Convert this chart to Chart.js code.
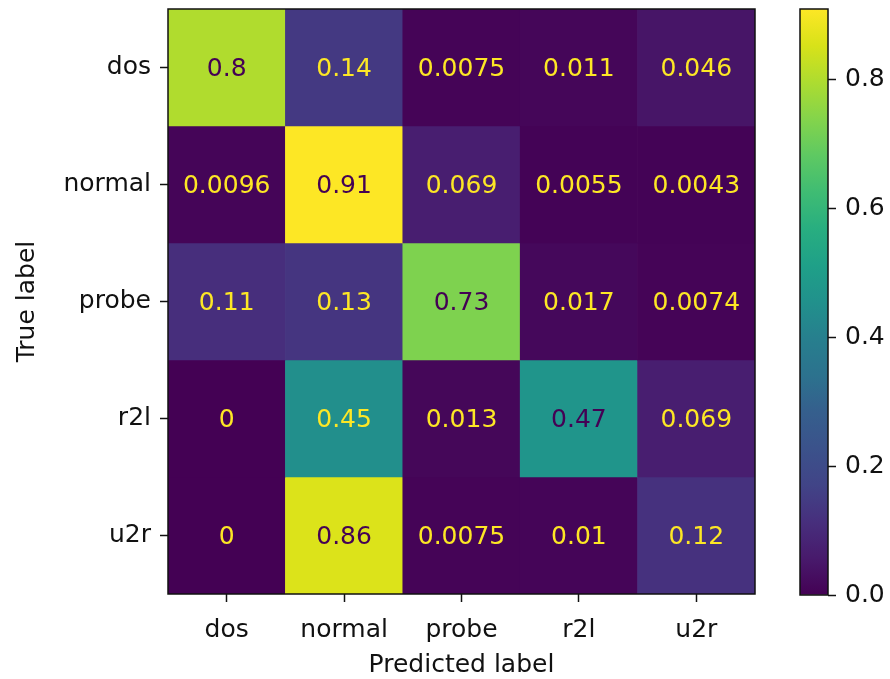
<!DOCTYPE html>
<html>
<head>
<meta charset="utf-8">
<script src="https://cdn.jsdelivr.net/npm/chart.js@4.4.1/dist/chart.umd.min.js"></script>
<style>
  html, body { margin: 0; padding: 0; background: #fff; }
  body { width: 890px; height: 679px; position: relative; overflow: hidden; }
  #matrix-wrap { position: absolute; left: 0; top: 0; width: 890px; height: 679px; }
  #cbar-wrap { position: absolute; left: 780px; top: 0; width: 110px; height: 679px; }
</style>
</head>
<body>
<div id="matrix-wrap"><canvas id="matrix"></canvas></div>
<div id="cbar-wrap"><canvas id="cbar"></canvas></div>
<script>
const predictedLabels = ['dos', 'normal', 'probe', 'r2l', 'u2r'];
const trueLabels = ['dos', 'normal', 'probe', 'r2l', 'u2r'];

// normalized confusion matrix, one row per true class (columns = predictedLabels)
const rowDos = [0.8, 0.14, 0.0075, 0.011, 0.046];
const rowNormal = [0.0096, 0.91, 0.069, 0.0055, 0.0043];
const rowProbe = [0.11, 0.13, 0.73, 0.017, 0.0074];
const rowR2l = [0, 0.45, 0.013, 0.47, 0.069];
const rowU2r = [0, 0.86, 0.0075, 0.01, 0.12];
const rows = [rowDos, rowNormal, rowProbe, rowR2l, rowU2r];

const colorbarTicks = [0, 0.2, 0.4, 0.6, 0.8];

const FONT = { family: '"DejaVu Sans", sans-serif', size: 25 };
const INK = '#111';

// viridis, 17 evenly spaced stops
const VIRIDIS = [
    '#440154', '#481a6c', '#472f7d', '#414487', '#3b528b', '#355f8d',
    '#2c728e', '#277f8e', '#21918c', '#1fa088', '#28ae80', '#3fbc73',
    '#5ec962', '#84d44b', '#addc30', '#d8e219', '#fde725',
];

function hexToRgb(hex) {
    const v = hex.replace('#', '');
    return [0, 2, 4].map(i => parseInt(v.substring(i, i + 2), 16));
}

function viridis(t) {
    t = Math.min(1, Math.max(0, t));
    const pos = t * (VIRIDIS.length - 1);
    const i = Math.min(Math.floor(pos), VIRIDIS.length - 2);
    const f = pos - i;
    const a = hexToRgb(VIRIDIS[i]);
    const b = hexToRgb(VIRIDIS[i + 1]);
    const c = a.map((av, k) => Math.round(av + (b[k] - av) * f));
    return `rgb(${c[0]}, ${c[1]}, ${c[2]})`;
}

const allValues = rows.flat();
const vmin = Math.min(...allValues);
const vmax = Math.max(...allValues);
const thresh = (vmin + vmax) / 2;

// black box around the plotting area, like axes spines
const frame = {
    id: 'frame',
    afterDraw(chart) {
        const { ctx, chartArea: a } = chart;
        ctx.save();
        ctx.strokeStyle = INK;
        ctx.lineWidth = 1.5;
        ctx.strokeRect(a.left, a.top, a.right - a.left, a.bottom - a.top);
        ctx.restore();
    },
};

// value printed in the middle of every cell
const cellText = {
    id: 'cellText',
    afterDatasetsDraw(chart) {
        const { ctx } = chart;
        ctx.save();
        ctx.font = `${FONT.size}px ${FONT.family}`;
        ctx.textAlign = 'center';
        ctx.textBaseline = 'middle';
        rows.forEach((row, r) => {
            chart.getDatasetMeta(r).data.forEach((bar, c) => {
                const v = row[c];
                const { x, y } = bar.getCenterPoint();
                ctx.fillStyle = v < thresh ? viridis(1) : viridis(0);
                ctx.fillText(String(v), x, y + 2);
            });
        });
        ctx.restore();
    },
};

// ticks sit at fixed offsets, so the edge labels need no extra room
function noEdgePadding(scale) {
    scale.paddingTop = 0;
    scale.paddingBottom = 0;
    scale.paddingLeft = 0;
    scale.paddingRight = 0;
}

const tickGrid = {
    display: true,
    drawOnChartArea: false,
    drawTicks: true,
    offset: false,
    tickLength: 8,
    tickWidth: 1.5,
    tickColor: INK,
};

new Chart(document.getElementById('matrix'), {
    type: 'bar',
    data: {
        labels: predictedLabels,
        // each true class is a dataset of unit-height floating bars on its row
        datasets: rows.map((row, r) => ({
            label: trueLabels[r],
            data: row.map(() => [r, r + 1]),
            backgroundColor: row.map(v => viridis((v - vmin) / (vmax - vmin))),
            borderWidth: 0,
            grouped: false,
            barPercentage: 1,
            categoryPercentage: 1,
        })),
    },
    options: {
        responsive: true,
        maintainAspectRatio: false,
        animation: false,
        layout: { padding: { left: 0, top: 9, right: 135, bottom: 0 } },
        plugins: {
            legend: { display: false },
            tooltip: { enabled: false },
        },
        scales: {
            x: {
                type: 'category',
                offset: true,
                grid: tickGrid,
                border: { display: false },
                ticks: { color: INK, font: FONT, padding: 13, maxRotation: 0 },
                title: {
                    display: true,
                    text: 'Predicted label',
                    color: INK,
                    font: { ...FONT, lineHeight: 1.1 },
                    padding: { top: 0, bottom: 0 },
                },
                afterFit: (scale) => {
                    noEdgePadding(scale);
                    scale.height = 85;
                },
            },
            y: {
                type: 'linear',
                min: 0,
                max: trueLabels.length,
                reverse: true,
                afterBuildTicks: (scale) => {
                    scale.ticks = trueLabels.map((_, i) => ({ value: i + 0.5 }));
                },
                grid: tickGrid,
                border: { display: false },
                ticks: {
                    color: INK,
                    font: FONT,
                    padding: 9,
                    autoSkip: false,
                    callback: (value, index) => trueLabels[index],
                },
                title: {
                    display: true,
                    text: 'True label',
                    color: INK,
                    font: { ...FONT, lineHeight: 1.2 },
                    padding: { top: 12, bottom: 0 },
                },
                afterFit: (scale) => {
                    noEdgePadding(scale);
                    scale.width = 168;
                },
            },
        },
    },
    plugins: [cellText, frame],
});

new Chart(document.getElementById('cbar'), {
    type: 'bar',
    data: {
        labels: [''],
        datasets: [{
            data: [[vmin, vmax]],
            backgroundColor: (context) => {
                const { chart } = context;
                if (!chart.chartArea) return viridis(0);
                const y = chart.scales.y;
                const g = chart.ctx.createLinearGradient(
                    0, y.getPixelForValue(vmin), 0, y.getPixelForValue(vmax));
                VIRIDIS.forEach((c, i) => g.addColorStop(i / (VIRIDIS.length - 1), c));
                return g;
            },
            borderWidth: 0,
            barPercentage: 1,
            categoryPercentage: 1,
        }],
    },
    options: {
        responsive: true,
        maintainAspectRatio: false,
        animation: false,
        layout: { padding: { left: 20, top: 9, right: 0, bottom: 84 } },
        plugins: {
            legend: { display: false },
            tooltip: { enabled: false },
        },
        scales: {
            x: { display: false },
            y: {
                position: 'right',
                min: vmin,
                max: vmax,
                afterBuildTicks: (scale) => {
                    scale.ticks = colorbarTicks.map(value => ({ value }));
                },
                grid: tickGrid,
                border: { display: false },
                ticks: {
                    color: INK,
                    font: FONT,
                    padding: 9,
                    callback: (value) => value.toFixed(1),
                },
                afterFit: (scale) => {
                    noEdgePadding(scale);
                    scale.width = 62;
                },
            },
        },
    },
    plugins: [frame],
});
</script>
</body>
</html>
